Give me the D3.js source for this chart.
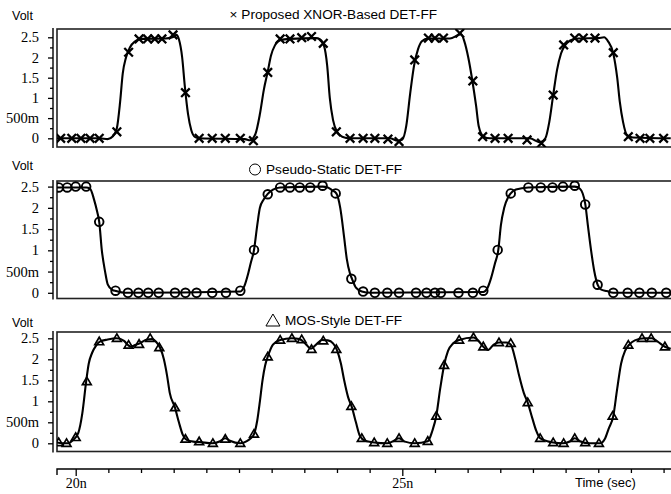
<!DOCTYPE html>
<html>
<head>
<meta charset="utf-8">
<script src="https://cdn.jsdelivr.net/npm/d3@7"></script>
<style>
  body { margin: 0; background: #fff; }
  .sans { font-family: "Liberation Sans", Arial, sans-serif; font-size: 12.5px; }
</style>
</head>
<body>
<svg id="chart" width="671" height="494"></svg>
<script>
// time in ns, voltage in V

// XNOR-based DET-FF
const xnorTraceT = [19.71, 20.37, 20.49, 20.57, 20.63, 20.68, 20.72, 20.77, 20.83, 20.91, 21.00, 21.37, 21.48, 21.54, 21.58, 21.63, 21.67, 21.72, 21.77, 21.83, 21.90,
  22.59, 22.67, 22.75, 22.82, 22.88, 22.94, 22.99, 23.05, 23.13, 23.28, 23.68, 23.74, 23.80, 23.85, 23.89, 23.94, 24.00, 24.08, 24.20,
  24.81, 24.93, 25.00, 25.06, 25.12, 25.18, 25.24, 25.30, 25.39, 25.73, 25.85, 25.90, 25.95, 26.01, 26.07, 26.13, 26.17, 26.24, 26.34,
  26.95, 27.11, 27.19, 27.25, 27.31, 27.37, 27.43, 27.49, 27.57, 27.69, 28.00, 28.09, 28.15, 28.23, 28.29, 28.33, 28.38, 28.44, 28.53, 29.11];
const xnorTraceV = [0.00, 0.00, -0.02, 0.05, 0.25, 0.90, 1.60, 2.00, 2.25, 2.40, 2.46, 2.47, 2.50, 2.56, 2.45, 2.00, 1.30, 0.60, 0.20, 0.03, 0.00,
  -0.02, -0.05, 0.10, 0.60, 1.20, 1.65, 2.05, 2.30, 2.43, 2.46, 2.48, 2.45, 2.30, 1.80, 1.00, 0.45, 0.16, 0.04, 0.00,
  0.00, -0.06, -0.03, 0.30, 1.10, 1.80, 2.20, 2.40, 2.47, 2.47, 2.55, 2.58, 2.40, 2.00, 1.45, 0.80, 0.30, 0.05, 0.00,
  0.00, -0.10, 0.00, 0.40, 1.07, 1.70, 2.10, 2.30, 2.42, 2.47, 2.48, 2.50, 2.40, 2.10, 1.50, 0.90, 0.40, 0.08, 0.02, 0.00];
const xnorMarkT = [19.77, 19.94, 20.08, 20.22, 20.36, 20.63, 20.81, 20.97, 21.10, 21.21, 21.32, 21.49, 21.68, 21.89, 22.09, 22.29, 22.52, 22.72,
  22.94, 23.13, 23.28, 23.46, 23.61, 23.79, 23.99, 24.20, 24.40, 24.58, 24.78, 24.95, 25.19, 25.40, 25.50, 25.63, 25.88, 26.08,
  26.23, 26.42, 26.62, 26.91, 27.13, 27.31, 27.47, 27.64, 27.77, 27.95, 28.23, 28.46, 28.64, 28.79, 29.00];
const xnorMarkV = [0, 0, 0, 0, 0, 0.16, 2.13, 2.46, 2.46, 2.46, 2.46, 2.56, 1.13, 0, 0, 0, 0, -0.06,
  1.63, 2.46, 2.46, 2.49, 2.52, 2.35, 0.16, 0, 0, 0, -0.02, -0.08, 1.94, 2.48, 2.48, 2.48, 2.60, 1.42,
  0.04, 0, 0, -0.04, -0.12, 1.07, 2.31, 2.48, 2.48, 2.48, 2.12, 0.04, 0, 0, 0];

// Pseudo-static DET-FF
const pseudoTraceT = [19.71, 20.16, 20.22, 20.28, 20.33, 20.36, 20.40, 20.45, 20.49, 20.56, 20.62, 20.75,
  22.52, 22.58, 22.64, 22.68, 22.73, 22.78, 22.82, 22.88, 22.94, 23.02, 23.13, 23.78, 23.86, 23.92, 23.99, 24.05, 24.11, 24.15, 24.20, 24.23, 24.29, 24.38, 24.51,
  26.24, 26.30, 26.36, 26.42, 26.47, 26.51, 26.56, 26.62, 26.66, 26.74, 26.93, 27.64, 27.72, 27.80, 27.84, 27.89, 27.94, 27.99, 28.04, 28.13, 28.23, 29.11];
const pseudoTraceV = [2.48, 2.48, 2.45, 2.20, 1.90, 1.67, 1.00, 0.50, 0.20, 0.07, 0.04, 0.00,
  0.03, 0.15, 0.45, 0.70, 1.01, 1.60, 2.00, 2.20, 2.33, 2.43, 2.48, 2.50, 2.48, 2.42, 2.34, 2.00, 1.30, 0.80, 0.45, 0.33, 0.12, 0.03, 0.00,
  0.02, 0.10, 0.35, 0.70, 1.01, 1.60, 2.00, 2.25, 2.34, 2.43, 2.48, 2.50, 2.45, 2.10, 1.60, 1.00, 0.50, 0.19, 0.08, 0.04, 0.00, 0.00];
const pseudoMarkT = [19.74, 19.87, 20.00, 20.16, 20.36, 20.61, 20.80, 20.96, 21.11, 21.27, 21.52, 21.68, 21.85, 22.09, 22.30, 22.52,
  22.73, 22.94, 23.13, 23.28, 23.43, 23.59, 23.78, 23.98, 24.22, 24.40, 24.58, 24.77, 24.95, 25.21, 25.37, 25.50, 25.59, 25.86, 26.08, 26.24,
  26.46, 26.66, 26.93, 27.12, 27.30, 27.46, 27.64, 27.80, 27.99, 28.23, 28.45, 28.63, 28.82, 29.04];
const pseudoMarkV = [2.48, 2.48, 2.50, 2.50, 1.67, 0.05, 0, 0, 0, 0, 0, 0, 0, 0, 0, 0.05,
  1.01, 2.32, 2.48, 2.48, 2.48, 2.48, 2.52, 2.34, 0.33, 0.03, 0, 0, 0, 0, 0, 0, 0, 0, 0, 0.05,
  1.01, 2.34, 2.48, 2.48, 2.48, 2.50, 2.52, 2.08, 0.19, 0, 0, 0, 0, 0];

// MOS-style DET-FF
const mosTraceT = [19.71, 19.79, 19.88, 19.96, 20.04, 20.10, 20.16, 20.20, 20.25, 20.31, 20.37, 20.49, 20.63, 20.74, 20.80, 20.85, 20.91, 20.98, 21.09, 21.17, 21.23, 21.29,
  21.35, 21.40, 21.44, 21.52, 21.58, 21.64, 21.70, 21.80, 21.90, 22.09, 22.21, 22.29, 22.36, 22.52, 22.62, 22.68, 22.73, 22.78, 22.82, 22.86, 22.90, 22.94, 23.02, 23.13,
  23.31, 23.43, 23.53, 23.60, 23.68, 23.77, 23.86, 23.94, 24.00, 24.06, 24.11, 24.17, 24.23, 24.29, 24.35, 24.43, 24.57, 24.77, 24.86, 24.95, 25.04, 25.19,
  25.39, 25.46, 25.52, 25.58, 25.64, 25.70, 25.78, 25.87, 26.09, 26.16, 26.24, 26.31, 26.40, 26.48, 26.59, 26.66, 26.73, 26.79, 26.86, 26.92, 26.99, 27.05, 27.11,
  27.22, 27.31, 27.46, 27.57, 27.64, 27.72, 27.87, 28.03, 28.10, 28.16, 28.23, 28.29, 28.35, 28.41, 28.47, 28.56, 28.71, 28.82, 28.91, 29.02, 29.11];
const mosTraceV = [0.02, 0.00, 0.00, 0.08, 0.25, 0.70, 1.47, 1.90, 2.15, 2.32, 2.42, 2.47, 2.50, 2.44, 2.34, 2.30, 2.34, 2.38, 2.47, 2.48, 2.42, 2.28,
  2.00, 1.60, 1.20, 0.85, 0.50, 0.20, 0.08, 0.04, 0.03, 0.00, 0.05, 0.12, 0.06, 0.00, 0.05, 0.12, 0.22, 0.55, 1.00, 1.50, 1.85, 2.06, 2.35, 2.46,
  2.50, 2.48, 2.35, 2.25, 2.35, 2.46, 2.45, 2.38, 2.22, 1.90, 1.50, 1.10, 0.85, 0.50, 0.18, 0.06, 0.02, 0.00, 0.05, 0.12, 0.04, 0.00,
  0.05, 0.30, 0.65, 1.30, 1.86, 2.20, 2.38, 2.46, 2.52, 2.45, 2.30, 2.22, 2.35, 2.40, 2.40, 2.35, 2.00, 1.60, 1.20, 0.97, 0.60, 0.30, 0.12,
  0.05, 0.02, 0.00, 0.05, 0.12, 0.05, 0.00, 0.00, 0.10, 0.35, 0.65, 1.30, 1.90, 2.20, 2.34, 2.45, 2.50, 2.50, 2.42, 2.30, 2.25];
const mosMarkT = [19.74, 19.86, 20.00, 20.17, 20.36, 20.63, 20.81, 20.97, 21.14, 21.28, 21.52, 21.68, 21.89, 22.10, 22.29, 22.52, 22.73,
  22.94, 23.13, 23.31, 23.46, 23.61, 23.79, 23.99, 24.22, 24.38, 24.57, 24.77, 24.95, 25.19, 25.39, 25.52, 25.64, 25.87, 26.09, 26.24,
  26.48, 26.66, 26.92, 27.11, 27.31, 27.47, 27.64, 27.80, 28.01, 28.22, 28.46, 28.67, 28.81, 29.02];
const mosMarkV = [0.02, 0.00, 0.14, 1.47, 2.42, 2.50, 2.34, 2.36, 2.50, 2.28, 0.85, 0.10, 0.04, 0.00, 0.10, 0.00, 0.22,
  2.06, 2.46, 2.50, 2.47, 2.24, 2.44, 2.24, 0.88, 0.12, 0.02, 0.00, 0.12, 0.00, 0.05, 0.65, 1.86, 2.46, 2.52, 2.30,
  2.40, 2.38, 0.97, 0.12, 0.02, 0.00, 0.12, 0.02, 0.00, 0.65, 2.34, 2.50, 2.50, 2.30];

const panelTitles = ["Proposed XNOR-Based DET-FF", "Pseudo-Static DET-FF", "MOS-Style DET-FF"];
const yTicks = [0, 0.5, 1, 1.5, 2, 2.5];
const yTickLabels = ["0", "500m", "1", "1.5", "2", "2.5"];
const yMinorTicks = [0.25, 0.75, 1.25, 1.75, 2.25];
const xTicks = [20, 25];
const xTickLabels = ["20n", "25n"];
const xMinorTicks = [20.5, 21, 21.5, 22, 22.5, 23, 23.5, 24, 24.5, 25.5, 26, 26.5, 27, 27.5, 28, 28.5, 29];

const svg = d3.select("#chart");
const plotLeft = 57, plotRight = 673, axisX = 53;
const serif = '"Liberation Serif", "Times New Roman", serif';

const x = d3.scaleLinear().domain([20, 25]).range([75.7, 402.3]);

const panels = [
  { title: panelTitles[0], marker: "x", tT: xnorTraceT, tV: xnorTraceV, mT: xnorMarkT, mV: xnorMarkV,
    top: 29, bottom: 147, y0: 138.3, y25: 37.3, voltY: 20, titleY: 19, titleEnd: 437 },
  { title: panelTitles[1], marker: "o", tT: pseudoTraceT, tV: pseudoTraceV, mT: pseudoMarkT, mV: pseudoMarkV,
    top: 181, bottom: 298.5, y0: 292.8, y25: 186.6, voltY: 170, titleY: 174, titleEnd: 402 },
  { title: panelTitles[2], marker: "t", tT: mosTraceT, tV: mosTraceV, mT: mosMarkT, mV: mosMarkV,
    top: 332, bottom: 451.5, y0: 443.3, y25: 338.3, voltY: 327, titleY: 325, titleEnd: 402 }
];

const defs = svg.append("defs");

function drawMarker(g, kind) {
  if (kind === "x") {
    g.append("path").attr("d", "M-4.3,-4.3L4.3,4.3M-4.3,4.3L4.3,-4.3")
      .attr("stroke", "#000").attr("stroke-width", 2.3).attr("fill", "none");
  } else if (kind === "o") {
    g.append("circle").attr("r", 4.3)
      .attr("stroke", "#000").attr("stroke-width", 1.9).attr("fill", "none");
  } else {
    g.append("path").attr("d", "M0,-4.4L4.4,3.1L-4.4,3.1Z")
      .attr("stroke", "#000").attr("stroke-width", 1.7).attr("fill", "none");
  }
}

panels.forEach((p, i) => {
  const y = d3.scaleLinear().domain([0, 2.5]).range([p.y0, p.y25]);
  const g = svg.append("g");

  defs.append("clipPath").attr("id", "clip" + i)
    .append("rect").attr("x", plotLeft).attr("y", p.top)
    .attr("width", plotRight - plotLeft).attr("height", p.bottom - p.top);

  // frame
  g.append("rect").attr("x", plotLeft).attr("y", p.top)
    .attr("width", plotRight - plotLeft).attr("height", p.bottom - p.top)
    .attr("fill", "none").attr("stroke", "#222").attr("stroke-width", 1.6);

  // y axis (major with labels, minor without)
  const yAxis = d3.axisLeft(y).tickValues(yTicks).tickSize(5).tickPadding(9)
    .tickFormat((d, k) => yTickLabels[k]);
  const ya = g.append("g").attr("transform", `translate(${axisX},0)`).call(yAxis);
  ya.select(".domain").remove();
  ya.selectAll("line").attr("stroke", "#000").attr("stroke-width", 1.3);
  ya.selectAll("text").attr("fill", "#000")
    .style("font-family", serif).style("font-size", "14.5px");

  const ym = g.append("g").attr("transform", `translate(${axisX},0)`)
    .call(d3.axisLeft(y).tickValues(yMinorTicks).tickSize(3).tickFormat(""));
  ym.select(".domain").remove();
  ym.selectAll("line").attr("stroke", "#000").attr("stroke-width", 1.3);

  g.append("line").attr("x1", axisX).attr("x2", axisX)
    .attr("y1", p.top - 1).attr("y2", p.bottom + 1)
    .attr("stroke", "#000").attr("stroke-width", 1.4);

  g.append("text").attr("class", "sans").attr("x", 12).attr("y", p.voltY).text("Volt");

  // waveform
  const pts = p.tT.map((t, k) => [t, p.tV[k]]);
  const line = d3.line().x(d => x(d[0])).y(d => y(d[1])).curve(d3.curveMonotoneX);
  const plot = g.append("g").attr("clip-path", `url(#clip${i})`);
  plot.append("path").datum(pts).attr("d", line)
    .attr("fill", "none").attr("stroke", "#000").attr("stroke-width", 2.1);

  const marks = p.mT.map((t, k) => [t, p.mV[k]]);
  plot.selectAll("g.mk").data(marks).enter().append("g").attr("class", "mk")
    .attr("transform", d => `translate(${x(d[0])},${y(d[1])})`)
    .each(function () { drawMarker(d3.select(this), p.marker); });

  // title with legend glyph
  const tt = g.append("text").attr("class", "sans").attr("y", p.titleY).attr("fill", "#000")
    .attr("x", p.titleEnd).attr("text-anchor", "end").style("font-size", "13.6px");
  if (p.marker === "x") {
    tt.text("× " + p.title);
  } else {
    tt.text(p.title);
    const start = p.titleEnd - tt.node().getComputedTextLength();
    if (p.marker === "o") {
      g.append("circle").attr("cx", start - 11).attr("cy", p.titleY - 4.5).attr("r", 5.5)
        .attr("fill", "none").attr("stroke", "#000").attr("stroke-width", 1);
    } else {
      g.append("path").attr("transform", `translate(${start - 12},${p.titleY - 5})`)
        .attr("d", "M0,-6L7,6L-7,6Z").attr("fill", "none").attr("stroke", "#000").attr("stroke-width", 1);
    }
  }
});

// time axis
const axisY = 469;
const xa = svg.append("g").attr("transform", `translate(0,${axisY})`)
  .call(d3.axisBottom(x).tickValues(xTicks).tickSize(7).tickFormat((d, k) => xTickLabels[k]));
xa.select(".domain").remove();
xa.selectAll("line").attr("stroke", "#000").attr("stroke-width", 1.3);
xa.selectAll("text").attr("fill", "#000").attr("y", 19).attr("dy", null)
  .style("font-family", serif).style("font-size", "14px");

const xm = svg.append("g").attr("transform", `translate(0,${axisY})`)
  .call(d3.axisBottom(x).tickValues(xMinorTicks).tickSize(4).tickFormat(""));
xm.select(".domain").remove();
xm.selectAll("line").attr("stroke", "#000").attr("stroke-width", 1.3);

svg.append("path").attr("d", `M${plotLeft},${axisY + 6}V${axisY}H671`)
  .attr("fill", "none").attr("stroke", "#000").attr("stroke-width", 1.4);

svg.append("text").attr("class", "sans").attr("x", 575).attr("y", 487)
  .style("font-size", "13px").text("Time (sec)");
</script>
</body>
</html>
